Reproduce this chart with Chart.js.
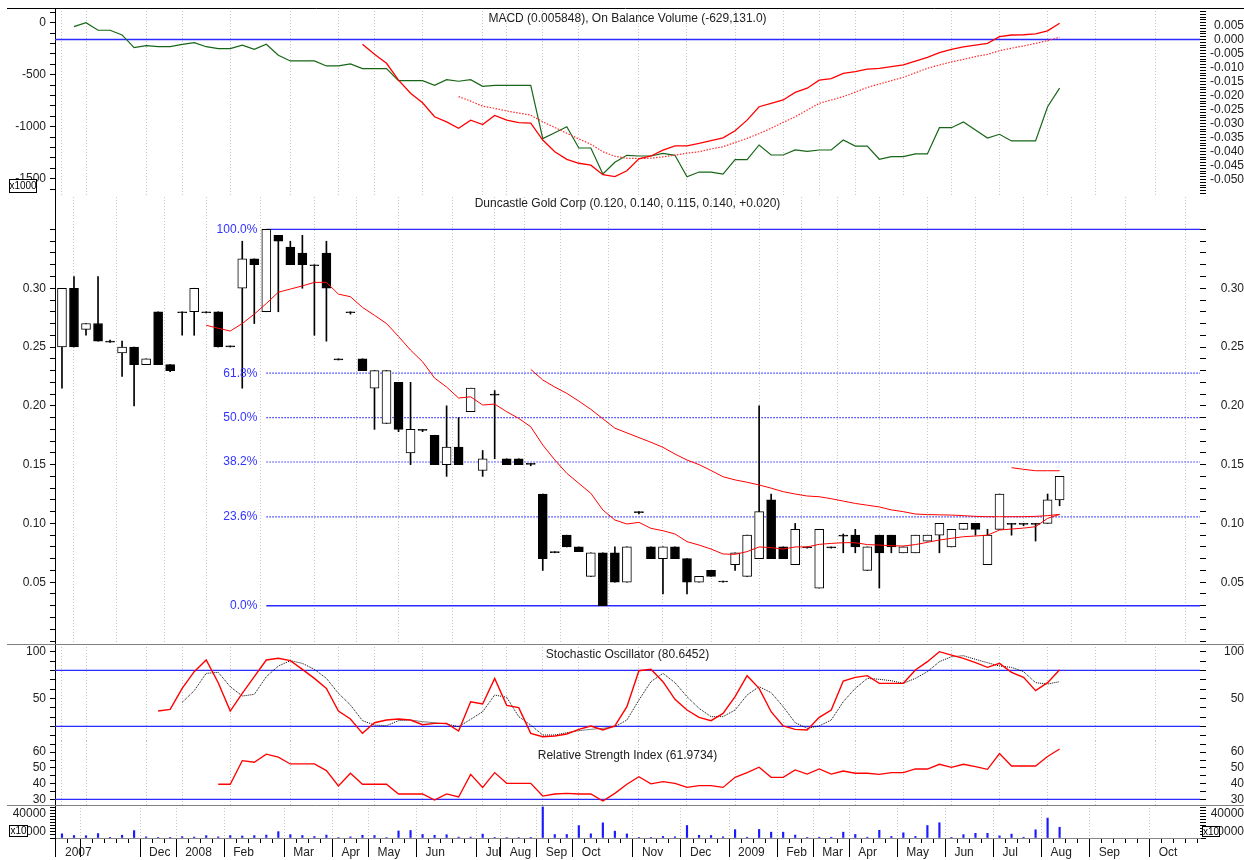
<!DOCTYPE html>
<html>
<head>
<meta charset="utf-8">
<title>Duncastle Gold Corp</title>
<script src="https://cdn.jsdelivr.net/npm/chart.js@4.4.1/dist/chart.umd.min.js"></script>
<style>
  html, body { margin:0; padding:0; background:#ffffff; }
  #wrap { position:relative; width:1244px; height:860px; overflow:hidden; background:#fff; }
  #wrap canvas { position:absolute; left:0; }
</style>
</head>
<body>
<div id="wrap"></div>
<script>
// ================= DATA =================
const monthTickIdx = [0, 2, 7, 10, 14, 19, 23, 26, 30, 35, 37, 40, 43, 48, 52, 56, 60, 63, 66, 70, 74, 78, 82, 86, 91];
const monthTickLbl = ['2007', '', 'Dec', '2008', 'Feb', 'Mar', 'Apr', 'May', 'Jun', 'Jul', 'Aug', 'Sep', 'Oct', 'Nov', 'Dec', '2009', 'Feb', 'Mar', 'Apr', 'May', 'Jun', 'Jul', 'Aug', 'Sep', 'Oct'];

const openP  = [0.25,0.30,0.265,0.27,0.255,0.245,0.25,0.235,0.28,0.235, 0.28,0.28,0.28,0.28,0.251,0.30,0.325,0.28,0.345,0.335, 0.33,0.32,0.33,0.24,0.28,0.24,0.215,0.185,0.22,0.16, 0.18,0.175,0.15,0.165,0.195,0.145,0.21,0.155,0.155,0.151, 0.125,0.076,0.09,0.08,0.055,0.075,0.075,0.05,0.11,0.08, 0.07,0.08,0.07,0.05,0.06,0.051,0.065,0.055,0.07,0.12, 0.08,0.065,0.08,0.045,0.08,0.09,0.09,0.06,0.09,0.09, 0.075,0.075,0.085,0.09,0.08,0.095,0.10,0.065,0.095,0.10, 0.10,0.10,0.10,0.12];
const highP  = [0.30,0.31,0.27,0.31,0.256,0.255,0.25,0.24,0.28,0.235, 0.28,0.30,0.28,0.28,0.251,0.34,0.325,0.35,0.345,0.34, 0.345,0.32,0.34,0.24,0.28,0.24,0.23,0.23,0.22,0.22, 0.18,0.175,0.20,0.19,0.215,0.162,0.213,0.155,0.155,0.151, 0.125,0.076,0.09,0.08,0.075,0.075,0.08,0.08,0.11,0.08, 0.08,0.08,0.07,0.055,0.06,0.051,0.075,0.09,0.20,0.125, 0.08,0.10,0.08,0.095,0.08,0.091,0.095,0.08,0.09,0.09, 0.08,0.09,0.09,0.10,0.095,0.10,0.10,0.095,0.125,0.10, 0.10,0.10,0.125,0.14];
const lowP   = [0.215,0.25,0.26,0.255,0.254,0.225,0.20,0.235,0.235,0.229, 0.26,0.26,0.279,0.25,0.25,0.215,0.27,0.28,0.28,0.32, 0.30,0.26,0.255,0.239,0.278,0.23,0.18,0.185,0.178,0.15, 0.178,0.15,0.14,0.15,0.195,0.14,0.155,0.15,0.15,0.149, 0.06,0.075,0.08,0.076,0.055,0.03,0.05,0.05,0.108,0.07, 0.04,0.07,0.04,0.05,0.055,0.05,0.06,0.055,0.07,0.07, 0.07,0.065,0.079,0.045,0.079,0.075,0.075,0.06,0.045,0.075, 0.075,0.075,0.085,0.075,0.08,0.095,0.09,0.065,0.095,0.09, 0.098,0.085,0.10,0.115];
const closeP = [0.30,0.25,0.27,0.255,0.255,0.25,0.235,0.24,0.235,0.23, 0.28,0.30,0.28,0.25,0.251,0.325,0.32,0.35,0.34,0.32, 0.32,0.32,0.30,0.24,0.28,0.23,0.23,0.23,0.18,0.18, 0.18,0.15,0.165,0.15,0.215,0.155,0.21,0.15,0.15,0.151, 0.07,0.076,0.08,0.076,0.075,0.03,0.05,0.08,0.11,0.07, 0.08,0.07,0.05,0.055,0.055,0.051,0.075,0.09,0.11,0.07, 0.07,0.095,0.08,0.095,0.08,0.09,0.08,0.08,0.075,0.08, 0.08,0.09,0.09,0.10,0.095,0.10,0.095,0.09,0.125,0.10, 0.10,0.10,0.12,0.14];

const N_LEAD = (n, vals) => Array(n).fill(null).concat(vals);
const maShort = N_LEAD(12, [0.2685,0.266,0.2636,0.270,0.278,0.287,0.2966,0.2993,0.302,0.305, 0.305,0.295,0.2928,0.2837,0.277,0.270,0.259,0.2474,0.2375,0.2236, 0.216,0.2066,0.2077,0.2007,0.2015,0.195,0.1893,0.1822,0.1667,0.154, 0.1426,0.1341,0.1256,0.1114,0.1029,0.0995,0.1009,0.0958,0.0938,0.091, 0.0845,0.0816,0.0782,0.074,0.0737,0.076,0.080,0.0794,0.0782,0.080, 0.080,0.0822,0.083,0.0836,0.0836,0.082,0.0816,0.081,0.0808,0.082, 0.0839,0.0859,0.0873,0.0887,0.0893,0.090,0.0944,0.0952,0.096,0.0972, 0.1043,0.1077]);
const maMid = N_LEAD(39, [0.231,0.222,0.216,0.2106,0.204,0.197,0.189,0.181,0.177,0.173, 0.169,0.1647,0.159,0.1539,0.150,0.145,0.1397,0.137,0.135,0.1327, 0.130,0.127,0.125,0.1233,0.1227,0.121,0.119,0.117,0.1155,0.114, 0.1115,0.110,0.108,0.1075,0.1073,0.1071,0.1066,0.106,0.1057,0.1057, 0.1057,0.1057,0.106,0.1066,0.1077]);
const maLong = N_LEAD(79, [0.1474,0.146,0.1448,0.1448,0.1448]);

const volume10 = [6900,4100,3800,7300,500,4500,12200,1900,1000,500, 2300,1600,3900,1900,4100,3300,3900,4800,10500,5500, 4100,2500,4800,800,1900,4500,4100,800,11600,12400, 5800,4400,5400,1500,1500,6400,1000,800,800,300, 51300,5700,5800,20500,6900,25000,11300,6700,1000,1000, 2600,1900,20600,4500,4100,1900,13800,1300,14100,9600, 9600,4800,1000,1300,1300,9600,5800,1300,12700,2500, 8600,2600,20600,25200,500,5500,7700,7700,3600,6400, 1300,13500,32900,17700];

const obvK = N_LEAD(1, [-38,0,-73,-73,-118,-240,-221,-231,-231, -208,-192,-231,-250,-250,-217,-256,-208,-313,-368, -368,-368,-416,-416,-397,-442,-442,-442,-558,-558, -558,-602,-548,-563,-548,-612,-602,-602,-602,-602, -1115,-1058,-1000,-1205,-1205,-1455,-1342,-1275,-1282,-1282, -1256,-1275,-1481,-1436,-1436,-1455,-1317,-1317,-1176,-1272, -1272,-1224,-1237,-1224,-1224,-1128,-1186,-1186,-1313,-1288, -1288,-1262,-1262,-1010,-1010,-955,-1032,-1109,-1073,-1137, -1137,-1137,-808,-629]);
const macdLine = N_LEAD(25, [-0.0017,-0.0053,-0.0085,-0.0145,-0.0192, -0.0226,-0.0276,-0.0294,-0.0317,-0.0288,-0.0304,-0.0271,-0.0288,-0.0297,-0.0299, -0.0359,-0.0401,-0.0428,-0.0442,-0.0449,-0.0483,-0.0490,-0.0469,-0.0426,-0.0416, -0.0395,-0.0380,-0.0380,-0.0371,-0.0361,-0.0351,-0.0326,-0.0288,-0.0240,-0.0228, -0.0216,-0.0189,-0.0174,-0.0145,-0.0140,-0.0121,-0.0115,-0.0106,-0.0103,-0.0097, -0.0091,-0.0077,-0.0064,-0.0047,-0.0035,-0.0026,-0.0020,-0.0014,0.0010,0.0016, 0.0017,0.0020,0.0031,0.0058]);
const macdSignal = N_LEAD(33, [-0.0204,-0.0220,-0.0238,-0.0246,-0.0255,-0.0263,-0.0270, -0.0294,-0.0314,-0.0335,-0.0355,-0.0374,-0.0401,-0.0417,-0.0424,-0.0425,-0.0424, -0.0419,-0.0413,-0.0406,-0.0401,-0.0391,-0.0383,-0.0368,-0.0353,-0.0336,-0.0317, -0.0296,-0.0276,-0.0252,-0.0228,-0.0216,-0.0204,-0.0188,-0.0171,-0.0159,-0.0147, -0.0135,-0.0119,-0.0103,-0.0091,-0.0080,-0.0071,-0.0061,-0.0053,-0.0040,-0.0031, -0.0023,-0.0014,-0.0004,0.0008]);

const stochK = N_LEAD(8, [36.4,38.2, 60.7,78.6,91.1,66.8,36.4,55.4,73.2,91.1,92.9,90.4, 81.1,71.4,60.7,36.4,27.9,12.5,23.9,26.8,27.9,26.8, 21.8,23.2,23.2,15.0,46.4,43.9,71.4,42.5,40.0,12.5, 8.9,9.6,11.8,16.8,20.4,16.1,20.4,41.1,79.6,81.1, 67.9,48.9,37.5,29.6,26.1,33.9,51.8,74.3,60.7,35.7, 20.4,16.8,16.1,29.6,37.5,68.6,72.5,74.3,66.1,66.1, 66.1,80.4,89.3,100,96.4,92.9,88.2,83.2,87.5,77.9, 72.5,58.2,66.8,80.6]);
const stochD = N_LEAD(10, [45.7,58.2,76.8,77.9,62.5,52.5,54.3,73.2,84.6,90.4, 87.5,81.1,71.4,55.4,42.9,26.1,21.4,20.7,26.1,26.8, 25.0,23.9,22.5,19.6,27.5,35.7,53.6,51.1,30.4,21.4, 10.7,10.7,13.2,15.4,16.8,17.9,19.6,26.8,48.2,67.9, 76.8,66.8,51.8,39.3,30.4,30.4,37.5,53.6,62.5,56.1, 41.1,23.9,17.9,20.4,26.8,46.4,60.7,71.4,70.4,68.9, 66.1,71.4,78.6,89.3,94.6,95.7,91.8,88.2,84.6,83.2, 78.6,66.8,65.4,67.9]);
const rsiLine = N_LEAD(13, [39.6,39.6,54.6,53.6,58.7,56.8,52.5, 52.5,52.5,48.3,38.5,46.6,39.6,39.6,39.6,33.4,33.4, 33.4,29.6,33.4,31.5,45.9,37.6,47.0,40.2,40.2,40.2, 32.1,33.4,33.8,33.4,33.4,28.9,33.8,39.6,44.4,39.8, 41.3,40.2,37.6,38.7,38.7,37.6,44.0,47.0,50.4,44.0, 44.0,48.7,46.1,49.3,46.1,48.0,46.6,46.6,45.9,47.0, 47.0,49.3,49.3,52.3,50.4,52.3,50.8,49.1,59.1,51.2, 51.2,51.2,57.2,62.0]);

const macdRefLevels  = [0];
const stochRefLevels = [80, 20];
const rsiRefLevels   = [30];
const fibPercents    = [100.0, 61.8, 50.0, 38.2, 23.6, 0.0];

const titles = {
  macd:  'MACD (0.005848), On Balance Volume (-629,131.0)',
  price: 'Duncastle Gold Corp (0.120, 0.140, 0.115, 0.140, +0.020)',
  stoch: 'Stochastic Oscillator (80.6452)',
  rsi:   'Relative Strength Index (61.9734)'
};

// ================= SETUP =================
const FONT = "'Liberation Sans', Arial, Helvetica, sans-serif";
Chart.defaults.font.family = FONT;
Chart.defaults.font.size = 12;
Chart.defaults.color = '#222';
const X_MIN = -0.58, X_MAX = 94.68;
const LEFT_W = 55, RIGHT_W = 44;
const BLUE = '#2b2bff';
const wrap = document.getElementById('wrap');

function makeCanvas(top, h) {
  const c = document.createElement('canvas');
  c.width = 1244; c.height = h;
  c.style.top = top + 'px'; c.style.width = '1244px'; c.style.height = h + 'px';
  wrap.appendChild(c);
  return c.getContext('2d');
}
const pts = arr => arr.map((v, i) => v == null ? null : {x: i, y: v}).filter(Boolean);
const hline = v => [{x: X_MIN, y: v}, {x: X_MAX, y: v}];
const range = (a, b, s) => { const r = []; for (let k = Math.round(a / s); k <= Math.round(b / s); k++) r.push(+(k * s).toFixed(6)); return r; };

function xGrid() {
  return {
    type: 'linear', min: X_MIN, max: X_MAX, offset: false,
    afterBuildTicks: s => { s.ticks = monthTickIdx.map(v => ({value: v})); },
    ticks: {display: false},
    grid: {color: '#c4c4c4', lineWidth: 1, drawTicks: false},
    border: {display: false, dash: [1, 2]},
    afterFit: s => { s.height = 0; s.paddingLeft = 0; s.paddingRight = 0; s.paddingTop = 0; s.paddingBottom = 0; }
  };
}
function yAx(pos, min, max, vals, label) {
  const left = pos === 'left';
  return {
    type: 'linear', position: pos, min, max,
    afterBuildTicks: s => { s.ticks = vals.map(v => ({value: v})); },
    ticks: {autoSkip: false, callback: v => label(v), padding: left ? 4 : 8, crossAlign: left ? 'near' : 'far', color: '#222', font: {size: 12}},
    grid: {drawOnChartArea: false, drawTicks: true, tickLength: left ? 5 : 6, color: '#000', tickColor: '#000', tickWidth: 1},
    border: {display: left, color: '#000', width: 1},
    afterFit: s => { s.width = left ? LEFT_W : RIGHT_W; s.paddingTop = 0; s.paddingBottom = 0; }
  };
}

const panelDeco = {
  id: 'panelDeco',
  afterDraw(chart, args, o) {
    const ctx = chart.ctx, ca = chart.chartArea;
    ctx.save();
    if (o.topLine) {
      ctx.strokeStyle = o.topLine; ctx.lineWidth = 1;
      ctx.beginPath(); ctx.moveTo(7, 0.5); ctx.lineTo(chart.width, 0.5); ctx.stroke();
    }
    if (o.title) {
      ctx.font = '12px ' + FONT; ctx.fillStyle = '#222'; ctx.textAlign = 'center'; ctx.textBaseline = 'middle';
      ctx.fillText(o.title, (ca.left + ca.right) / 2, o.titleY);
    }
    (o.boxes || []).forEach(b => {
      ctx.fillStyle = '#fff'; ctx.fillRect(b.x, b.y, b.w, b.h);
      ctx.strokeStyle = '#000'; ctx.lineWidth = 1; ctx.strokeRect(b.x + 0.5, b.y + 0.5, b.w - 1, b.h - 1);
      ctx.font = '10px ' + FONT; ctx.fillStyle = '#000'; ctx.textAlign = 'center'; ctx.textBaseline = 'middle';
      ctx.fillText(b.text, b.x + b.w / 2, b.y + b.h / 2 + 0.5);
    });
    ctx.restore();
  }
};
Chart.register(panelDeco);

function baseOpts(scales, deco) {
  return {
    responsive: false, animation: false, events: [],
    layout: {padding: 0},
    scales,
    elements: {point: {radius: 0}, line: {tension: 0, borderWidth: 1}},
    plugins: {legend: {display: false}, tooltip: {enabled: false}, panelDeco: deco}
  };
}
const lineDs = (data, color, width, dash, axis) => ({
  type: 'line', data, borderColor: color, borderWidth: width, borderDash: dash || [],
  pointRadius: 0, fill: false, yAxisID: axis
});

// ================= PANEL 1: MACD / OBV =================
new Chart(makeCanvas(8, 189), {
  type: 'line',
  data: {datasets: [
    lineDs(pts(macdLine), '#ff0000', 1.3, [], 'yR'),
    lineDs(pts(macdSignal), '#ff2a2a', 1.2, [1.5, 1.5], 'yR'),
    lineDs(pts(obvK), '#176617', 1.2, [], 'yL'),
    ...macdRefLevels.map(v => lineDs(hline(v), BLUE, 1.3, [], 'yR'))
  ]},
  options: baseOpts({
    x: xGrid(),
    yL: yAx('left', -1676, 141, range(-1600, 100, 100), v => (v % 500 === 0 ? String(v) : '')),
    yR: yAx('right', -0.05625, 0.01125, range(-0.055, 0.010, 0.001), v => { const k = Math.round(v * 1000); return (k % 5 === 0 && k >= -50 && k <= 5) ? v.toFixed(3) : ''; })
  }, {topLine: '#000', title: titles.macd, titleY: 11, boxes: [{x: 9, y: 171, w: 28, h: 14, text: 'x1000'}]})
});

// ================= PANEL 2: PRICE =================
const hi = Math.max(...highP), lo = Math.min(...lowP), peakIdx = highP.indexOf(hi);
const fibLevels = fibPercents.map(p => lo + (hi - lo) * p / 100);
const bodyColors = closeP.map((c, i) => c > openP[i] ? '#ffffff' : '#000000');
const fibLabelPlugin = {
  id: 'fibLabels',
  afterDatasetsDraw(chart) {
    const ctx = chart.ctx, xs = chart.scales.x, ys = chart.scales.yL;
    ctx.save();
    ctx.font = '12px ' + FONT; ctx.fillStyle = '#3333ff'; ctx.textAlign = 'right'; ctx.textBaseline = 'middle';
    fibPercents.forEach((p, k) => ctx.fillText(p.toFixed(1) + '%', xs.getPixelForValue(peakIdx) - 9, ys.getPixelForValue(fibLevels[k])));
    ctx.restore();
  }
};
const priceLabel = v => { const k = Math.round(v * 100); return (k % 5 === 0 && k >= 5 && k <= 30) ? v.toFixed(2) : ''; };
new Chart(makeCanvas(197, 447), {
  type: 'bar',
  data: {datasets: [
    Object.assign(lineDs(pts(maShort), '#ff0000', 1, [], 'yL'), {order: 1}),
    Object.assign(lineDs(pts(maMid), '#ff0000', 1, [], 'yL'), {order: 1}),
    Object.assign(lineDs(pts(maLong), '#ff0000', 1, [], 'yL'), {order: 1}),
    {type: 'bar', order: 2, yAxisID: 'yL', grouped: false, barThickness: 9, minBarLength: 1,
     data: closeP.map((c, i) => ({x: i, y: [openP[i], c]})),
     backgroundColor: bodyColors, borderColor: '#000', borderWidth: 1, borderSkipped: false},
    {type: 'bar', order: 3, yAxisID: 'yL', grouped: false, barThickness: 1,
     data: closeP.map((c, i) => ({x: i, y: [lowP[i], highP[i]]})),
     backgroundColor: '#000', borderWidth: 0},
    ...fibPercents.map((p, k) => {
      const solid = (p === 100 || p === 0);
      return Object.assign(lineDs([{x: peakIdx, y: fibLevels[k]}, {x: X_MAX, y: fibLevels[k]}], solid ? BLUE : '#3535ff', solid ? 1.3 : 1.2, solid ? [] : [1.5, 1.5], 'yL'), {order: 4});
    })
  ]},
  options: baseOpts({
    x: xGrid(),
    yL: yAx('left', -0.00255, 0.3776, range(0, 0.35, 0.01), priceLabel),
    yR: yAx('right', -0.00255, 0.3776, range(0, 0.35, 0.01), priceLabel)
  }, {title: titles.price, titleY: 7}),
  plugins: [fibLabelPlugin]
});

// ================= PANEL 3: STOCHASTIC =================
new Chart(makeCanvas(644, 97), {
  type: 'line',
  data: {datasets: [
    lineDs(pts(stochK), '#ff0000', 1.4, [], 'yL'),
    lineDs(pts(stochD), '#000000', 1, [1, 1], 'yL'),
    ...stochRefLevels.map(v => lineDs(hline(v), BLUE, 1.3, [], 'yL'))
  ]},
  options: baseOpts({
    x: xGrid(),
    yL: yAx('left', 4.3, 108.25, range(10, 100, 10), v => (v === 100 || v === 50 ? String(v) : '')),
    yR: yAx('right', 4.3, 108.25, range(10, 100, 10), v => (v === 100 || v === 50 ? String(v) : ''))
  }, {topLine: '#808080', title: titles.stoch, titleY: 11})
});

// ================= PANEL 4: RSI =================
new Chart(makeCanvas(741, 64), {
  type: 'line',
  data: {datasets: [
    lineDs(pts(rsiLine), '#ff0000', 1.3, [], 'yL'),
    ...rsiRefLevels.map(v => lineDs(hline(v), BLUE, 1.3, [], 'yL'))
  ]},
  options: baseOpts({
    x: xGrid(),
    yL: yAx('left', 26.4, 67.1, range(30, 65, 5), v => (v % 10 === 0 ? String(v) : '')),
    yR: yAx('right', 26.4, 67.1, range(30, 65, 5), v => (v % 10 === 0 ? String(v) : ''))
  }, {title: titles.rsi, titleY: 15})
});

// ================= PANEL 5: VOLUME + X AXIS =================
const isMonth = v => monthTickIdx.indexOf(v) >= 0;
new Chart(makeCanvas(805, 55), {
  type: 'bar',
  data: {datasets: [
    {type: 'bar', yAxisID: 'yL', grouped: false, barThickness: 1.5,
     data: volume10.map((v, i) => ({x: i, y: v})), backgroundColor: '#1a1aff', borderWidth: 0}
  ]},
  options: baseOpts({
    x: {
      type: 'linear', min: X_MIN, max: X_MAX, offset: false,
      afterBuildTicks: s => { const t = []; for (let i = 0; i <= Math.floor(X_MAX); i++) t.push({value: i}); s.ticks = t; },
      ticks: {autoSkip: false, maxRotation: 0, minRotation: 0, align: 'start', labelOffset: 3, padding: -12, color: '#222', font: {size: 12},
              callback: v => { const k = monthTickIdx.indexOf(v); return k >= 0 ? monthTickLbl[k] : ''; }},
      grid: {drawOnChartArea: true, drawTicks: true, tickLength: 19,
             color: c => (c.tick && isMonth(c.tick.value)) ? '#c4c4c4' : 'rgba(0,0,0,0)',
             tickColor: '#000', tickWidth: 1,
             tickBorderDash: c => (c.tick && isMonth(c.tick.value)) ? [] : [4, 60]},
      border: {display: true, color: '#888', width: 1, dash: [1, 2]},
      afterFit: s => { s.height = 22; s.paddingLeft = 0; s.paddingRight = 0; s.paddingTop = 0; s.paddingBottom = 0; }
    },
    yL: yAx('left', 0, 54450, range(0, 50000, 5000), v => (v === 40000 || v === 10000 ? String(v) : '')),
    yR: yAx('right', 0, 54450, range(0, 50000, 5000), v => (v === 40000 || v === 10000 ? String(v) : ''))
  }, {topLine: '#808080', boxes: [{x: 9, y: 20, w: 19, h: 12, text: 'x10'}, {x: 1202, y: 21, w: 18, h: 11, text: 'x10'}]})
});
</script>
</body>
</html>
